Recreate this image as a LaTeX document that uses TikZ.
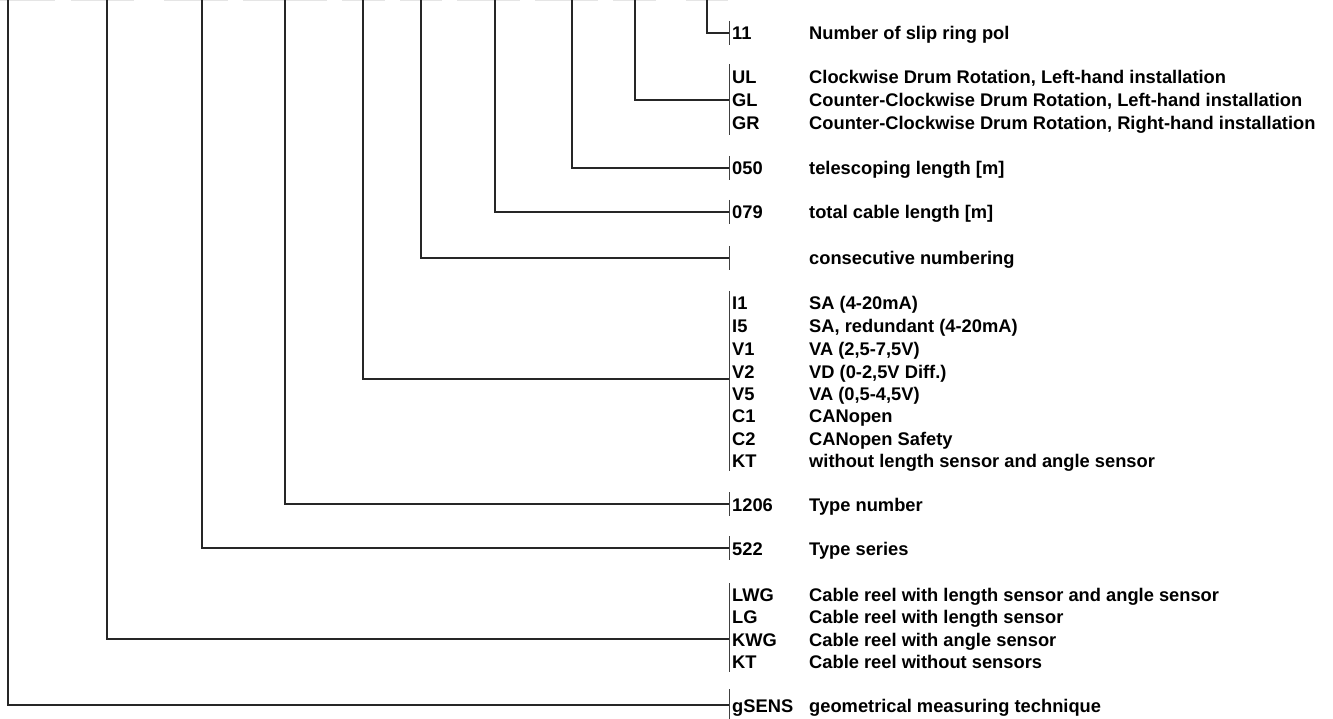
\documentclass[tikz,border=0pt]{standalone}
\usepackage{fontspec}
\setmainfont{Liberation Sans}
\usetikzlibrary{positioning}

\tikzset{
  code/.style={anchor=base west, inner sep=0pt, font=\bfseries\fontsize{18.3}{20}\selectfont},
  desc/.style={anchor=base west, inner sep=0pt, font=\bfseries\fontsize{18.3}{20}\selectfont},
  lead/.style={line width=1.2pt, draw=black!85},
  bar/.style={line width=0.9pt, draw=black!75},
}

\begin{document}
\begin{tikzpicture}[x=1pt, y=-1pt]
    \useasboundingbox[fill=white] (0,0) rectangle (1333,719);

    % faint boxes of the order code at the top edge
    \foreach \a/\b in {0/55, 71/134, 164/228, 243/327, 342/385, 400/442, 457/520, 535/598, 613/656, 686/728}
        \draw[black!10, line width=1.2pt] (\a,0.6) -- (\b,0.6);

    % stems coming down from the order code
    \coordinate (s1) at (8,0);
    \coordinate (s2) at (107,0);
    \coordinate (s3) at (202,0);
    \coordinate (s4) at (285,0);
    \coordinate (s5) at (363,0);
    \coordinate (s6) at (421,0);
    \coordinate (s7) at (495,0);
    \coordinate (s8) at (572,0);
    \coordinate (s9) at (635,0);
    \coordinate (s10) at (707,0);

    % junctions on the bars
    \coordinate (j10) at (729,33);
    \coordinate (j9) at (729,100);
    \coordinate (j8) at (729,168);
    \coordinate (j7) at (729,212);
    \coordinate (j6) at (729,258);
    \coordinate (j5) at (729,379);
    \coordinate (j4) at (729,504);
    \coordinate (j3) at (729,548);
    \coordinate (j2) at (729,639);
    \coordinate (j1) at (729,705);

    % bars
    \foreach \n/\t/\u in {10/21/45, 9/64/135, 8/156/180, 7/200/224, 6/246/270,
                          5/291/471, 4/492/516, 3/536/560, 2/583/672, 1/689/719} {
        \coordinate (t\n) at (729,\t);
        \coordinate (u\n) at (729,\u);
        \draw[bar] (t\n) -- (u\n);
    }

    % connectors
    \foreach \n in {1,...,10}
        \draw[lead] (s\n) |- (j\n);

    % codes and meanings
    \node[code] (c11) at (732,40) {11};
    \node[desc] (d11) at (809,40) {Number of slip ring pol};

    \node[code] (cUL) at (732,84) {UL};
    \node[desc] (dUL) at (809,84) {Clockwise Drum Rotation, Left-hand installation};
    \node[code] (cGL) at (732,107) {GL};
    \node[desc] (dGL) at (809,107) {Counter-Clockwise Drum Rotation, Left-hand installation};
    \node[code] (cGR) at (732,130) {GR};
    \node[desc] (dGR) at (809,130) {Counter-Clockwise Drum Rotation, Right-hand installation};

    \node[code] (c050) at (732,175) {050};
    \node[desc] (d050) at (809,175) {telescoping length [m]};

    \node[code] (c079) at (732,219) {079};
    \node[desc] (d079) at (809,219) {total cable length [m]};

    \node[desc] (dnum) at (809,265) {consecutive numbering};

    \foreach \k/\y/\txt [count=\i] in {I1/309/SA (4-20mA), I5/332/{SA, redundant (4-20mA)},
                              V1/355/{VA (2,5-7,5V)}, V2/378/{VD (0-2,5V Diff.)},
                              V5/400/{VA (0,5-4,5V)}, C1/422/CANopen,
                              C2/445/CANopen Safety, KT/467/without length sensor and angle sensor} {
        \node[code] (cs\i) at (732,\y) {\k};
        \node[desc] (ds\i) at (809,\y) {\txt};
    }

    \node[code] (c1206) at (732,511) {1206};
    \node[desc] (d1206) at (809,511) {Type number};

    \node[code] (c522) at (732,555) {522};
    \node[desc] (d522) at (809,555) {Type series};

    \foreach \k/\y/\txt [count=\i] in {LWG/601/Cable reel with length sensor and angle sensor,
                              LG/623/Cable reel with length sensor,
                              KWG/646/Cable reel with angle sensor,
                              KT/668/Cable reel without sensors} {
        \node[code] (cr\i) at (732,\y) {\k};
        \node[desc] (dr\i) at (809,\y) {\txt};
    }

    \node[code] (cg) at (732,712) {gSENS};
    \node[desc] (dg) at (809,712) {geometrical measuring technique};
\end{tikzpicture}
\end{document}
